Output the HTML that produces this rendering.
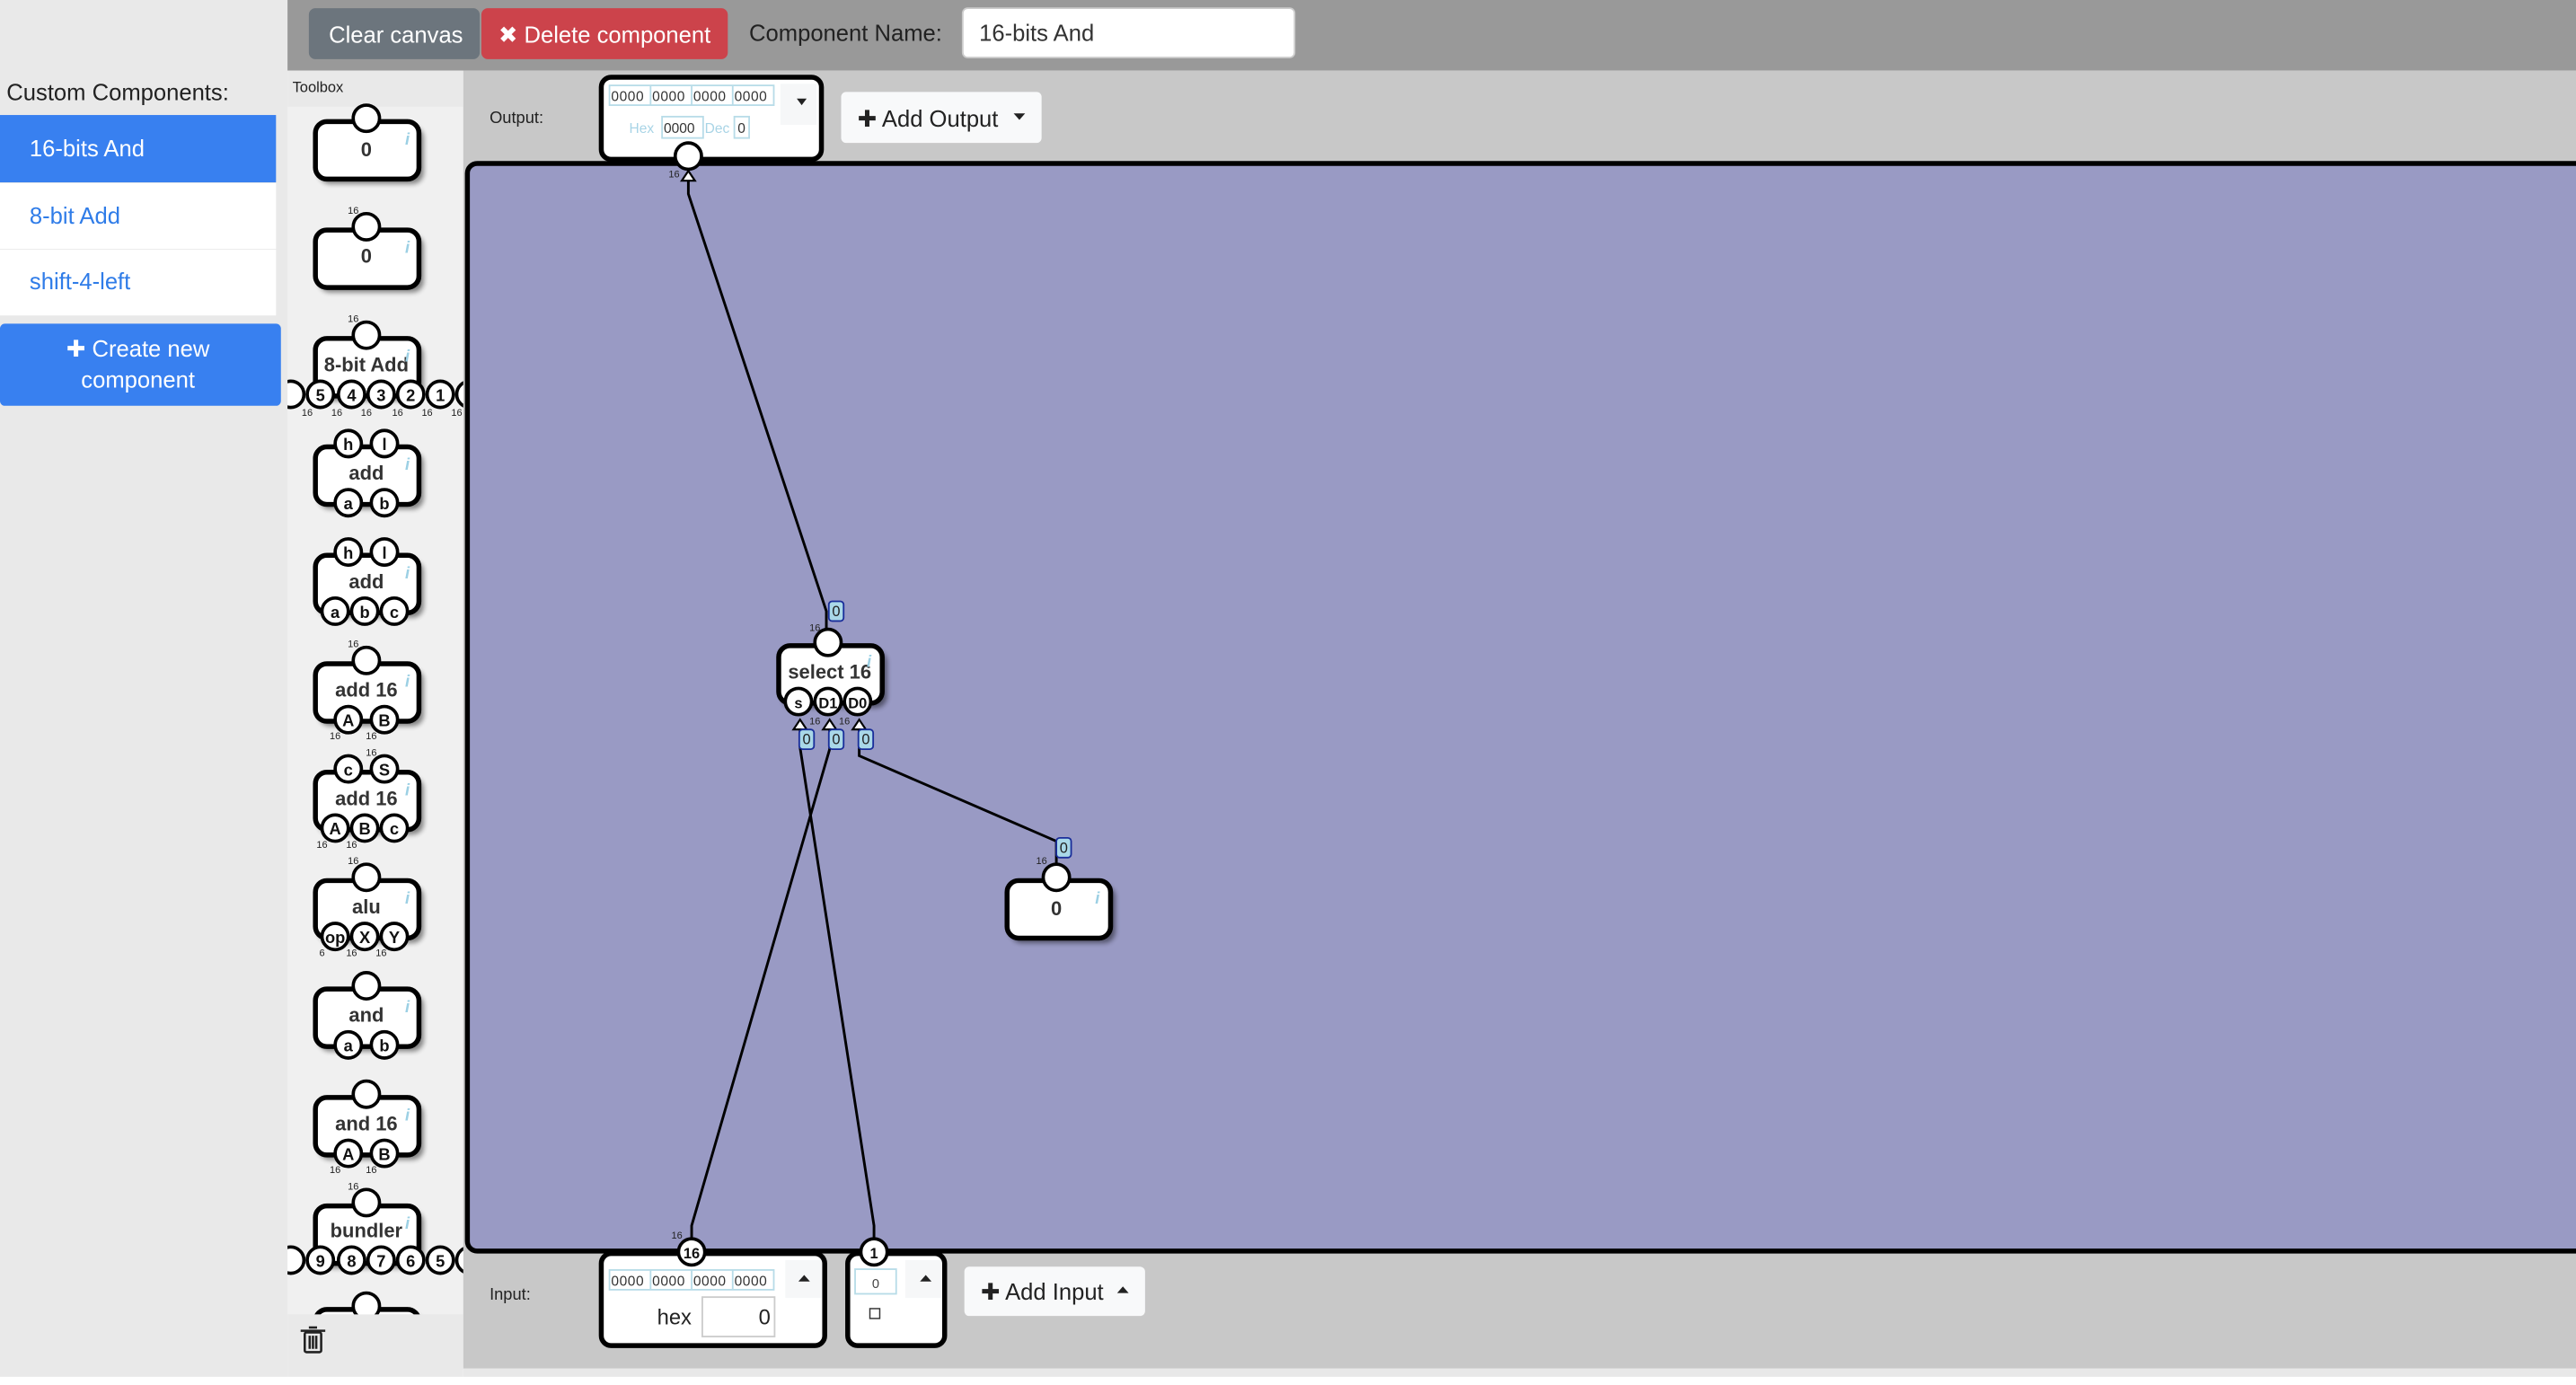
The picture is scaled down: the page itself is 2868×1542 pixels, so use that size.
<!DOCTYPE html>
<html><head><meta charset="utf-8">
<style>
html,body{margin:0;padding:0;width:2868px;height:1542px;overflow:hidden;background:#fff}
svg{display:block}
text{font-family:"Liberation Sans","DejaVu Sans",sans-serif}
.node{font-family:"DejaVu Sans","Liberation Sans",sans-serif}
</style></head><body>
<svg width="2868" height="1542" viewBox="0 0 1568 843" preserveAspectRatio="none" xmlns="http://www.w3.org/2000/svg">
<defs>
<filter id="sh" x="-20%" y="-20%" width="150%" height="150%"><feGaussianBlur stdDeviation="1.5"/></filter>
<g id="body">
<rect x="-29" y="3" width="64" height="35" rx="7" fill="#000" opacity=".45" filter="url(#sh)"/>
<rect x="-31" y="0" width="63" height="35" rx="7" fill="#fff" stroke="#000" stroke-width="3"/>
</g>
<clipPath id="tb"><rect x="175" y="62" width="107" height="738"/></clipPath>
</defs>

<rect x="0" y="0" width="1568" height="843" fill="#fff"/>
<rect x="0" y="0" width="175" height="838" fill="#e9e9e9"/>
<rect x="175" y="0" width="1393" height="43" fill="#999"/>
<rect x="175" y="43" width="107" height="795" fill="#e9e9e9"/>
<rect x="175" y="65" width="107" height="735" fill="#f0f0f0"/>
<rect x="282" y="43" width="1286" height="790" fill="#c8c8c8"/>
<rect x="282" y="833" width="1286" height="5" fill="#e8e8e8"/>

<rect x="188" y="5" width="104" height="31" rx="4" fill="#6c757d"/>
<text x="241" y="26" font-size="14" fill="#fff" text-anchor="middle">Clear canvas</text>
<rect x="293" y="5" width="150" height="31" rx="4" fill="#cc434b"/>
<text x="368" y="26" font-size="14" fill="#fff" text-anchor="middle">✖ Delete component</text>
<text x="456" y="25" font-size="14" fill="#222">Component Name:</text>
<rect x="586" y="5" width="202" height="30" rx="3" fill="#fff" stroke="#ccc"/>
<text x="596" y="25" font-size="14" fill="#333">16-bits And</text>

<text x="4" y="61" font-size="14" fill="#222">Custom Components:</text>
<rect x="0" y="70" width="168" height="41" fill="#3880f0"/>
<text x="18" y="95" font-size="14" fill="#fff">16-bits And</text>
<rect x="0" y="111.5" width="168" height="40" fill="#fff"/>
<text x="18" y="136" font-size="14" fill="#2f7ce8">8-bit Add</text>
<rect x="0" y="152" width="168" height="40" fill="#fff"/>
<text x="18" y="176" font-size="14" fill="#2f7ce8">shift-4-left</text>
<rect x="0" y="197" width="171" height="50" rx="3" fill="#3880f0"/>
<text x="84" y="217" font-size="14" fill="#fff" text-anchor="middle">✚ Create new</text>
<text x="84" y="236" font-size="14" fill="#fff" text-anchor="middle">component</text>

<text x="178" y="56" font-size="9" fill="#222">Toolbox</text>

<g clip-path="url(#tb)" class="node" font-weight="bold" text-anchor="middle">
<g font-size="12" fill="#333">
<use href="#body" x="223" y="74"/><text x="223" y="95">0</text>
<circle cx="223" cy="72" r="8" fill="#fff" stroke="#000" stroke-width="2"/>
<use href="#body" x="223" y="140"/><text x="223" y="160">0</text>
<circle cx="223" cy="138" r="8" fill="#fff" stroke="#000" stroke-width="2"/>
<use href="#body" x="223" y="206"/><text x="223" y="226">8-bit Add</text>
<circle cx="223" cy="204" r="8" fill="#fff" stroke="#000" stroke-width="2"/>
<use href="#body" x="223" y="272"/><text x="223" y="292">add</text>
<use href="#body" x="223" y="338"/><text x="223" y="358">add</text>
<use href="#body" x="223" y="404"/><text x="223" y="424">add 16</text>
<circle cx="223" cy="402" r="8" fill="#fff" stroke="#000" stroke-width="2"/>
<use href="#body" x="223" y="470"/><text x="223" y="490">add 16</text>
<use href="#body" x="223" y="536"/><text x="223" y="556">alu</text>
<circle cx="223" cy="534" r="8" fill="#fff" stroke="#000" stroke-width="2"/>
<use href="#body" x="223" y="602"/><text x="223" y="622">and</text>
<circle cx="223" cy="600" r="8" fill="#fff" stroke="#000" stroke-width="2"/>
<use href="#body" x="223" y="668"/><text x="223" y="688">and 16</text>
<circle cx="223" cy="666" r="8" fill="#fff" stroke="#000" stroke-width="2"/>
<use href="#body" x="223" y="734"/><text x="223" y="753">bundler</text>
<circle cx="223" cy="732" r="8" fill="#fff" stroke="#000" stroke-width="2"/>
<use href="#body" x="223" y="797"/>
<circle cx="223" cy="795" r="8" fill="#fff" stroke="#000" stroke-width="2"/>
</g>
<g fill="#fff" stroke="#000" stroke-width="2">
<circle cx="177" cy="240" r="8"/><circle cx="195" cy="240" r="8"/><circle cx="214" cy="240" r="8"/><circle cx="232" cy="240" r="8"/><circle cx="250" cy="240" r="8"/><circle cx="268" cy="240" r="8"/><circle cx="286" cy="240" r="8"/>
<circle cx="212" cy="270" r="8"/><circle cx="234" cy="270" r="8"/><circle cx="212" cy="306" r="8"/><circle cx="234" cy="306" r="8"/>
<circle cx="212" cy="336" r="8"/><circle cx="234" cy="336" r="8"/><circle cx="204" cy="372" r="8"/><circle cx="222" cy="372" r="8"/><circle cx="240" cy="372" r="8"/>
<circle cx="212" cy="438" r="8"/><circle cx="234" cy="438" r="8"/>
<circle cx="212" cy="468" r="8"/><circle cx="234" cy="468" r="8"/><circle cx="204" cy="504" r="8"/><circle cx="222" cy="504" r="8"/><circle cx="240" cy="504" r="8"/>
<circle cx="204" cy="570" r="8"/><circle cx="222" cy="570" r="8"/><circle cx="240" cy="570" r="8"/>
<circle cx="212" cy="636" r="8"/><circle cx="234" cy="636" r="8"/>
<circle cx="212" cy="702" r="8"/><circle cx="234" cy="702" r="8"/>
<circle cx="177" cy="767" r="8"/><circle cx="195" cy="767" r="8"/><circle cx="214" cy="767" r="8"/><circle cx="232" cy="767" r="8"/><circle cx="250" cy="767" r="8"/><circle cx="268" cy="767" r="8"/><circle cx="286" cy="767" r="8"/>
</g>
<g font-size="10" fill="#111">
<text x="195" y="244">5</text><text x="214" y="244">4</text><text x="232" y="244">3</text><text x="250" y="244">2</text><text x="268" y="244">1</text>
<text x="212" y="274">h</text><text x="234" y="274">l</text><text x="212" y="310">a</text><text x="234" y="310">b</text>
<text x="212" y="340">h</text><text x="234" y="340">l</text><text x="204" y="376">a</text><text x="222" y="376">b</text><text x="240" y="376">c</text>
<text x="212" y="442">A</text><text x="234" y="442">B</text>
<text x="212" y="472">c</text><text x="234" y="472">S</text><text x="204" y="508">A</text><text x="222" y="508">B</text><text x="240" y="508">c</text>
<text x="204" y="574">op</text><text x="222" y="574">X</text><text x="240" y="574">Y</text>
<text x="212" y="640">a</text><text x="234" y="640">b</text>
<text x="212" y="706">A</text><text x="234" y="706">B</text>
<text x="195" y="771">9</text><text x="214" y="771">8</text><text x="232" y="771">7</text><text x="250" y="771">6</text><text x="268" y="771">5</text>
</g>
<g font-size="6" font-weight="normal" fill="#222">
<text x="215" y="130">16</text><text x="215" y="196">16</text>
<text x="187" y="253">16</text><text x="205" y="253">16</text><text x="223" y="253">16</text><text x="242" y="253">16</text><text x="260" y="253">16</text><text x="278" y="253">16</text>
<text x="215" y="394">16</text><text x="204" y="450">16</text><text x="226" y="450">16</text>
<text x="226" y="460">16</text><text x="196" y="516">16</text><text x="214" y="516">16</text>
<text x="215" y="526">16</text><text x="196" y="582">6</text><text x="214" y="582">16</text><text x="232" y="582">16</text>
<text x="204" y="714">16</text><text x="226" y="714">16</text><text x="215" y="724">16</text>
</g>
<g font-size="10" font-style="italic" fill="#9cd0e4">
<text x="248" y="88">i</text><text x="248" y="154">i</text><text x="248" y="220">i</text><text x="248" y="286">i</text><text x="248" y="352">i</text><text x="248" y="418">i</text><text x="248" y="484">i</text><text x="248" y="550">i</text><text x="248" y="616">i</text><text x="248" y="682">i</text><text x="248" y="748">i</text>
</g>
</g>

<g fill="none" stroke="#222" stroke-width="1.4">
<rect x="185.5" y="811" width="10" height="12" rx="1"/>
<line x1="183" y1="810" x2="198" y2="810"/><line x1="188" y1="808" x2="193" y2="808"/>
<line x1="188.5" y1="813" x2="188.5" y2="821"/><line x1="190.5" y1="813" x2="190.5" y2="821"/><line x1="192.5" y1="813" x2="192.5" y2="821"/>
</g>

<rect x="284.5" y="99.5" width="1300" height="662" rx="6" fill="#999ac4" stroke="#000" stroke-width="3"/>

<text x="298" y="75" font-size="10" fill="#222">Output:</text>
<rect x="366" y="47" width="134" height="50" rx="6" fill="#fff" stroke="#000" stroke-width="3"/>
<rect x="475" y="51" width="22" height="25" fill="#f6f7f8"/>
<path d="M485 60 L491 60 L488 64 Z" fill="#222"/>
<g font-family="DejaVu Sans,sans-serif" font-size="8.5" fill="#333">
<rect x="371" y="52" width="100" height="12" fill="none" stroke="#b8dce8"/>
<line x1="396" y1="52" x2="396" y2="64" stroke="#b8dce8"/><line x1="421" y1="52" x2="421" y2="64" stroke="#b8dce8"/><line x1="446" y1="52" x2="446" y2="64" stroke="#b8dce8"/>
<text x="372" y="61.5" letter-spacing=".3">0000</text><text x="397" y="61.5" letter-spacing=".3">0000</text><text x="422" y="61.5" letter-spacing=".3">0000</text><text x="447" y="61.5" letter-spacing=".3">0000</text>
<text x="383" y="81" fill="#a8d4e6">Hex</text>
<rect x="403" y="71" width="25" height="13" fill="none" stroke="#b8dce8"/><text x="404" y="81">0000</text>
<text x="429" y="81" fill="#a8d4e6">Dec</text>
<rect x="447" y="71" width="9" height="13" fill="none" stroke="#b8dce8"/><text x="449" y="81">0</text>
</g>
<rect x="512" y="56" width="122" height="31" rx="3" fill="#f8f9fa"/>
<text x="522" y="77" font-size="14" fill="#222">✚ Add Output</text>
<path d="M617 69 L624 69 L620.5 73 Z" fill="#222"/>

<g stroke="#000" stroke-width="1.6" fill="none">
<polyline points="419,104 419,118 503,372 503,383"/>
<polyline points="487,444 487,455 532,746 532,760"/>
<polyline points="505,444 505,456 421,746 421,760"/>
<polyline points="523,444 523,460 643,512 643,528"/>
</g>
<circle cx="419" cy="95" r="8" fill="#fff" stroke="#000" stroke-width="2"/>
<path d="M419 104 L415 110 L423 110 Z" fill="#fff" stroke="#000" stroke-width="1.2"/>
<text x="407" y="108" font-size="6" fill="#222">16</text>

<g class="node" text-anchor="middle">
<use href="#body" x="505" y="393"/>
<text x="505" y="413" font-size="12" font-weight="bold" fill="#333">select 16</text>
<text x="529" y="406" font-size="10" font-style="italic" font-weight="bold" fill="#9cd0e4">i</text>
<circle cx="504" cy="391" r="8" fill="#fff" stroke="#000" stroke-width="2"/>
<circle cx="486" cy="427" r="8" fill="#fff" stroke="#000" stroke-width="2"/>
<circle cx="504" cy="427" r="8" fill="#fff" stroke="#000" stroke-width="2"/>
<circle cx="522" cy="427" r="8" fill="#fff" stroke="#000" stroke-width="2"/>
<g font-size="9" font-weight="bold" fill="#111"><text x="486" y="431">s</text><text x="504" y="431">D1</text><text x="522" y="431">D0</text></g>
<g font-size="6" fill="#222"><text x="496" y="384">16</text><text x="496" y="441">16</text><text x="514" y="441">16</text></g>
</g>
<g fill="#fff" stroke="#000" stroke-width="1.2">
<path d="M487 438 L483 444 L491 444 Z"/><path d="M505 438 L501 444 L509 444 Z"/><path d="M523 438 L519 444 L527 444 Z"/>
</g>
<g font-family="Liberation Mono,monospace" font-size="9" fill="#222" text-anchor="middle">
<rect x="504.5" y="366" width="9" height="12" rx="2" fill="#a9d8e8" stroke="#1a2e9a" stroke-width="1"/><text x="509" y="375">0</text>
<rect x="486.5" y="444" width="9" height="12" rx="2" fill="#a9d8e8" stroke="#1a2e9a" stroke-width="1"/><text x="491" y="453">0</text>
<rect x="504.5" y="444" width="9" height="12" rx="2" fill="#a9d8e8" stroke="#1a2e9a" stroke-width="1"/><text x="509" y="453">0</text>
<rect x="522.5" y="444" width="9" height="12" rx="2" fill="#a9d8e8" stroke="#1a2e9a" stroke-width="1"/><text x="527" y="453">0</text>
<rect x="643" y="510" width="9" height="12" rx="2" fill="#a9d8e8" stroke="#1a2e9a" stroke-width="1"/><text x="647.5" y="519">0</text>
</g>

<g class="node" text-anchor="middle">
<use href="#body" x="644" y="536"/>
<text x="643" y="557" font-size="12" font-weight="bold" fill="#333">0</text>
<text x="668" y="550" font-size="10" font-style="italic" font-weight="bold" fill="#9cd0e4">i</text>
<circle cx="643" cy="534" r="8" fill="#fff" stroke="#000" stroke-width="2"/>
<text x="634" y="526" font-size="6" fill="#222">16</text>
</g>

<text x="298" y="791" font-size="10" fill="#222">Input:</text>
<rect x="366" y="763" width="136" height="56" rx="6" fill="#fff" stroke="#000" stroke-width="3"/>
<rect x="478" y="767" width="22" height="23" fill="#f6f7f8"/>
<path d="M486 780 L493 780 L489.5 776 Z" fill="#222"/>
<g font-family="DejaVu Sans,sans-serif" font-size="8.5" fill="#333">
<rect x="371" y="773" width="100" height="12" fill="none" stroke="#b8dce8"/>
<line x1="396" y1="773" x2="396" y2="785" stroke="#b8dce8"/><line x1="421" y1="773" x2="421" y2="785" stroke="#b8dce8"/><line x1="446" y1="773" x2="446" y2="785" stroke="#b8dce8"/>
<text x="372" y="782.5" letter-spacing=".3">0000</text><text x="397" y="782.5" letter-spacing=".3">0000</text><text x="422" y="782.5" letter-spacing=".3">0000</text><text x="447" y="782.5" letter-spacing=".3">0000</text>
</g>
<text x="400" y="806" font-size="13" fill="#222">hex</text>
<rect x="427.5" y="789.5" width="44" height="24" fill="#fff" stroke="#ccc"/>
<text x="469" y="806" font-size="13" font-family="Liberation Mono,monospace" fill="#222" text-anchor="end">0</text>

<rect x="516" y="763" width="59" height="56" rx="6" fill="#fff" stroke="#000" stroke-width="3"/>
<rect x="551" y="767" width="22" height="23" fill="#f6f7f8"/>
<path d="M560 780 L567 780 L563.5 776 Z" fill="#222"/>
<rect x="520.5" y="772.5" width="25" height="15" fill="#fff" stroke="#b8dce8"/>
<text x="533" y="784" font-size="8" fill="#444" text-anchor="middle">0</text>
<rect x="529.5" y="796.5" width="6" height="6" fill="#fff" stroke="#333" stroke-width=".8"/>

<g class="node" text-anchor="middle">
<circle cx="421" cy="762" r="8" fill="#fff" stroke="#000" stroke-width="2"/>
<text x="421" y="766" font-size="9" font-weight="bold" fill="#111">16</text>
<text x="412" y="754" font-size="6" fill="#222">16</text>
<circle cx="532" cy="762" r="8" fill="#fff" stroke="#000" stroke-width="2"/>
<text x="532" y="766" font-size="9" font-weight="bold" fill="#111">1</text>
</g>

<rect x="587" y="771" width="110" height="30" rx="3" fill="#f8f9fa"/>
<text x="597" y="791" font-size="14" fill="#222">✚ Add Input</text>
<path d="M680 787 L687 787 L683.5 783 Z" fill="#222"/>
</svg>
</body></html>
